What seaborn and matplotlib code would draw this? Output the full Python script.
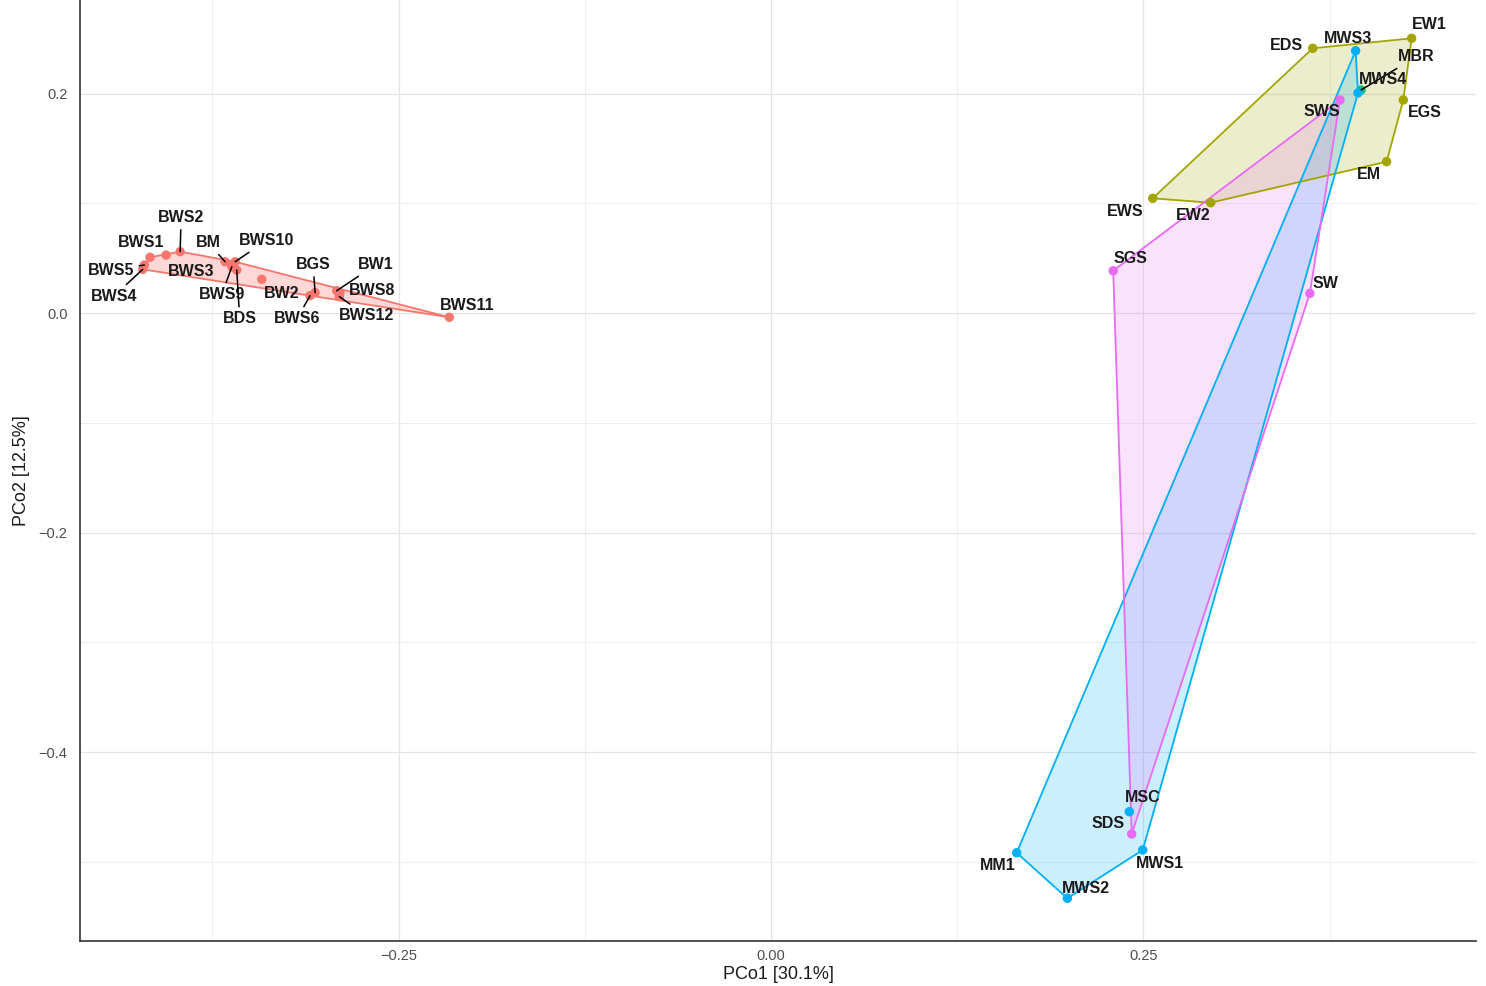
import numpy as np
import pandas as pd
import matplotlib
matplotlib.use("Agg")
import matplotlib.pyplot as plt
import seaborn as sns

# PCoA sample scores
samples = ["BWS1", "BWS5", "BWS4", "BWS3", "BWS2", "BM", "BWS10", "BWS9", "BDS",
           "BW2", "BGS", "BWS6", "BW1", "BWS8", "BWS12", "BWS11",
           "EW1", "EDS", "EGS", "EM", "EWS", "EW2",
           "MBR",
           "MWS3", "MWS4", "MSC", "MM1", "MWS1", "MWS2",
           "SWS", "SGS", "SW", "SDS"]
pco1 = [-0.4168, -0.4206, -0.4217, -0.4060, -0.3966, -0.3664, -0.3597, -0.3619, -0.3586,
        -0.3418, -0.3060, -0.3094, -0.2915, -0.2893, -0.2897, -0.2159,
        0.4300, 0.3636, 0.4244, 0.4132, 0.2562, 0.2951,
        0.3960,
        0.3924, 0.3940, 0.2405, 0.1649, 0.2495, 0.1989,
        0.3819, 0.2297, 0.3617, 0.2421]
pco2 = [0.0508, 0.0437, 0.0398, 0.0528, 0.0559, 0.0467, 0.0467, 0.0422, 0.0392,
        0.0307, 0.0185, 0.0158, 0.0203, 0.0185, 0.0149, -0.0039,
        0.2503, 0.2412, 0.1941, 0.1379, 0.1045, 0.1005,
        0.2032,
        0.2390, 0.2005, -0.4544, -0.4918, -0.4893, -0.5333,
        0.1941, 0.0385, 0.0179, -0.4747]
groups = ["B"] * 16 + ["E"] * 6 + ["MB"] + ["M"] * 6 + ["S"] * 4

group_order = ["B", "E", "MB", "M", "S"]
group_colors = ["#F8766D", "#A3A500", "#00BF7D", "#00B0F6", "#E76BF3"]
palette = dict(zip(group_order, group_colors))

x_ticks = [-0.25, 0.00, 0.25]
y_ticks = [-0.4, -0.2, 0.0, 0.2]
x_title = "PCo1 [30.1%]"
y_title = "PCo2 [12.5%]"

# label placement (pixels from the point: right, down) and which get a leader line
label_offsets = {
    "BWS2": (1, -34), "BWS1": (-9, -15), "BWS5": (-33, 5), "BWS4": (-29, 27),
    "BWS3": (25, 16), "BM": (-17, -19), "BWS10": (31, -21), "BWS9": (-10, 28),
    "BDS": (3, 49), "BW2": (20, 14), "BGS": (-2, -28), "BW1": (39, -26),
    "BWS8": (32, -2), "BWS6": (-13, 23), "BWS12": (27, 19), "BWS11": (18, -12),
    "EW1": (18, -14), "EDS": (-26, -3), "MWS3": (-8, -12), "MBR": (55, -33),
    "MWS4": (25, -13), "SWS": (-18, 12), "EGS": (22, 13), "EM": (-18, 13),
    "EWS": (-28, 13), "EW2": (-17, 13), "SGS": (17, -12), "SW": (16, -10),
    "MSC": (13, -14), "SDS": (-24, -10), "MM1": (-19, 13), "MWS1": (17, 13),
    "MWS2": (19, -10),
}
leader = {"BWS2", "BWS5", "BWS4", "BM", "BWS10", "BWS9", "BDS", "BGS", "BW1",
          "BWS6", "BWS12", "MBR"}

df = pd.DataFrame({"sample": samples, "PCo1": pco1, "PCo2": pco2, "group": groups})


def convex_hull(points):
    pts = sorted(set(map(tuple, points)))
    if len(pts) < 3:
        return pts

    def cross(o, a, b):
        return (a[0] - o[0]) * (b[1] - o[1]) - (a[1] - o[1]) * (b[0] - o[0])

    lower, upper = [], []
    for p in pts:
        while len(lower) >= 2 and cross(lower[-2], lower[-1], p) <= 0:
            lower.pop()
        lower.append(p)
    for p in reversed(pts):
        while len(upper) >= 2 and cross(upper[-2], upper[-1], p) <= 0:
            upper.pop()
        upper.append(p)
    return lower[:-1] + upper[:-1]


def fmt(v, nd):
    return f"{v:.{nd}f}".replace("-", "\u2212")


sns.set_theme(style="white")
plt.rcParams["font.family"] = ["Liberation Sans", "DejaVu Sans"]

fig = plt.figure(figsize=(14.86, 9.86), dpi=100)
ax = fig.add_axes([80 / 1486, 45 / 986, 1396 / 1486, 941 / 986])

# hulls around each group
for g in group_order:
    sub = df[df["group"] == g]
    if len(sub) < 3:
        continue
    hull = np.array(convex_hull(sub[["PCo1", "PCo2"]].values))
    ax.fill(hull[:, 0], hull[:, 1], color=palette[g],
            alpha=0.28 if g == "B" else 0.2, lw=0, zorder=2)
    closed = np.vstack([hull, hull[:1]])
    ax.plot(closed[:, 0], closed[:, 1], color=palette[g], lw=1.3, zorder=3)

sns.scatterplot(data=df, x="PCo1", y="PCo2", hue="group", hue_order=group_order,
                palette=palette, s=46, linewidth=0, legend=False, ax=ax, zorder=4)

for name, x, y in zip(samples, pco1, pco2):
    dx, dy = label_offsets[name]
    kw = {}
    if name in leader:
        kw["arrowprops"] = dict(arrowstyle="-", color="black", lw=1.1,
                                shrinkA=1, shrinkB=0)
    ax.annotate(name, xy=(x, y), xytext=(dx, -dy), textcoords="offset pixels",
                ha="center", va="center", fontsize=11.5, fontweight="bold",
                color="#1a1a1a", zorder=6, **kw)

ax.set_xlim(-0.4638, 0.4732)
ax.set_ylim(-0.5722, 0.2852)
ax.set_xticks(x_ticks)
ax.set_xticklabels([fmt(t, 2) for t in x_ticks])
ax.set_yticks(y_ticks)
ax.set_yticklabels([fmt(t, 1) for t in y_ticks])
ax.set_xticks([-0.375, -0.125, 0.125, 0.375], minor=True)
ax.set_yticks([-0.5, -0.3, -0.1, 0.1], minor=True)

ax.grid(True, which="major", color="#E4E4E4", lw=0.9, zorder=0)
ax.grid(True, which="minor", color="#EDEDED", lw=0.6, zorder=0)
ax.set_axisbelow(True)

ax.tick_params(axis="both", which="both", length=0, labelsize=10.5, labelcolor="#4D4D4D")
ax.tick_params(axis="y", pad=9)
ax.tick_params(axis="x", pad=6)

ax.set_xlabel(x_title, fontsize=13, color="#1a1a1a", labelpad=2)
ax.set_ylabel(y_title, fontsize=13, color="#1a1a1a", labelpad=6)

for side in ["top", "right"]:
    ax.spines[side].set_visible(False)
for side in ["left", "bottom"]:
    ax.spines[side].set_color("#333333")
    ax.spines[side].set_linewidth(1.2)

fig.savefig("out.png", dpi=100)
